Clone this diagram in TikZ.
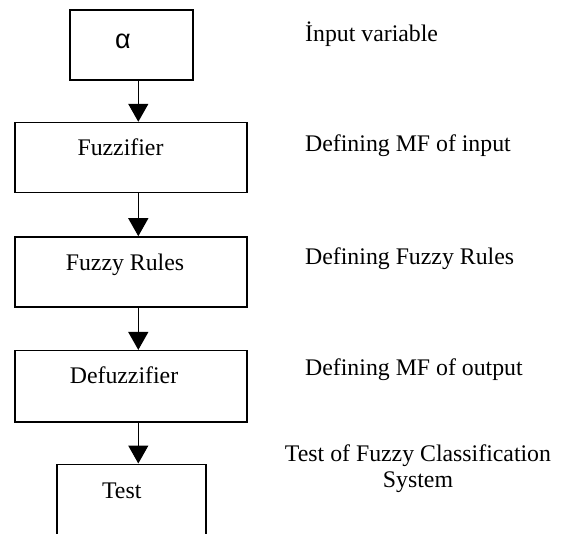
\documentclass[tikz,border=0pt]{standalone}
\usepackage{fontspec}
\setmainfont{Liberation Serif}
\newfontfamily\greekfont{Liberation Sans}
\usetikzlibrary{arrows.meta}
\tikzset{
  stagebox/.style={draw,black,line width=1.6pt,inner sep=0pt},
  flow/.style={line width=1.4pt,-{Triangle[length=18pt,width=20pt]}},
}
\newcommand{\stage}[6]{%
 \node[stagebox,minimum width=#3,minimum height=#4] (#1) at (#2) {};%
 \node[anchor=base,inner sep=0pt] (#1txt) at (#5) {#6};%
}
\newcommand{\stagenote}[3]{%
 \node[anchor=base west,inner sep=0pt] (#1) at (#2) {#3};%
}
\begin{document}
\begin{tikzpicture}[x=1pt,y=-1pt,font=\fontsize{23.8}{25.5}\selectfont]
  \useasboundingbox (0,0) rectangle (562,534);
  \stage{alpha}{131.5,45}{123pt}{70pt}{123,48.3}{\greekfont\fontsize{27}{28}\selectfont α};
  \stage{fuzz}{131,157.6}{232pt}{70pt}{120.5,156}{Fuzzifier};
  \stage{rules}{131,272}{232pt}{70pt}{125,270.7}{Fuzzy Rules};
  \stage{defuzz}{131,386.2}{232pt}{71pt}{124,384}{Defuzzifier};
  \stage{test}{131.4,509.3}{149.3pt}{90pt}{121.7,498.3}{Test};
  \coordinate (ax) at (138.3,0);
  \draw[flow] (alpha.south -| ax) -- (fuzz.north -| ax);
  \draw[flow] (fuzz.south -| ax) -- (rules.north -| ax);
  \draw[flow] (rules.south -| ax) -- (defuzz.north -| ax);
  \draw[flow] (defuzz.south -| ax) -- (test.north -| ax);
  \stagenote{inNote}{305,41.7}{İnput variable}
  \stagenote{fuzzNote}{305,151.7}{Defining MF of input}
  \stagenote{rulesNote}{305,264.3}{Defining Fuzzy Rules}
  \stagenote{defuzzNote}{305,375.7}{Defining MF of output}
  \node[align=center,anchor=base,inner sep=0pt] (testNote) at (418,487.3) {Test of Fuzzy Classification\\System};
\end{tikzpicture}
\end{document}
